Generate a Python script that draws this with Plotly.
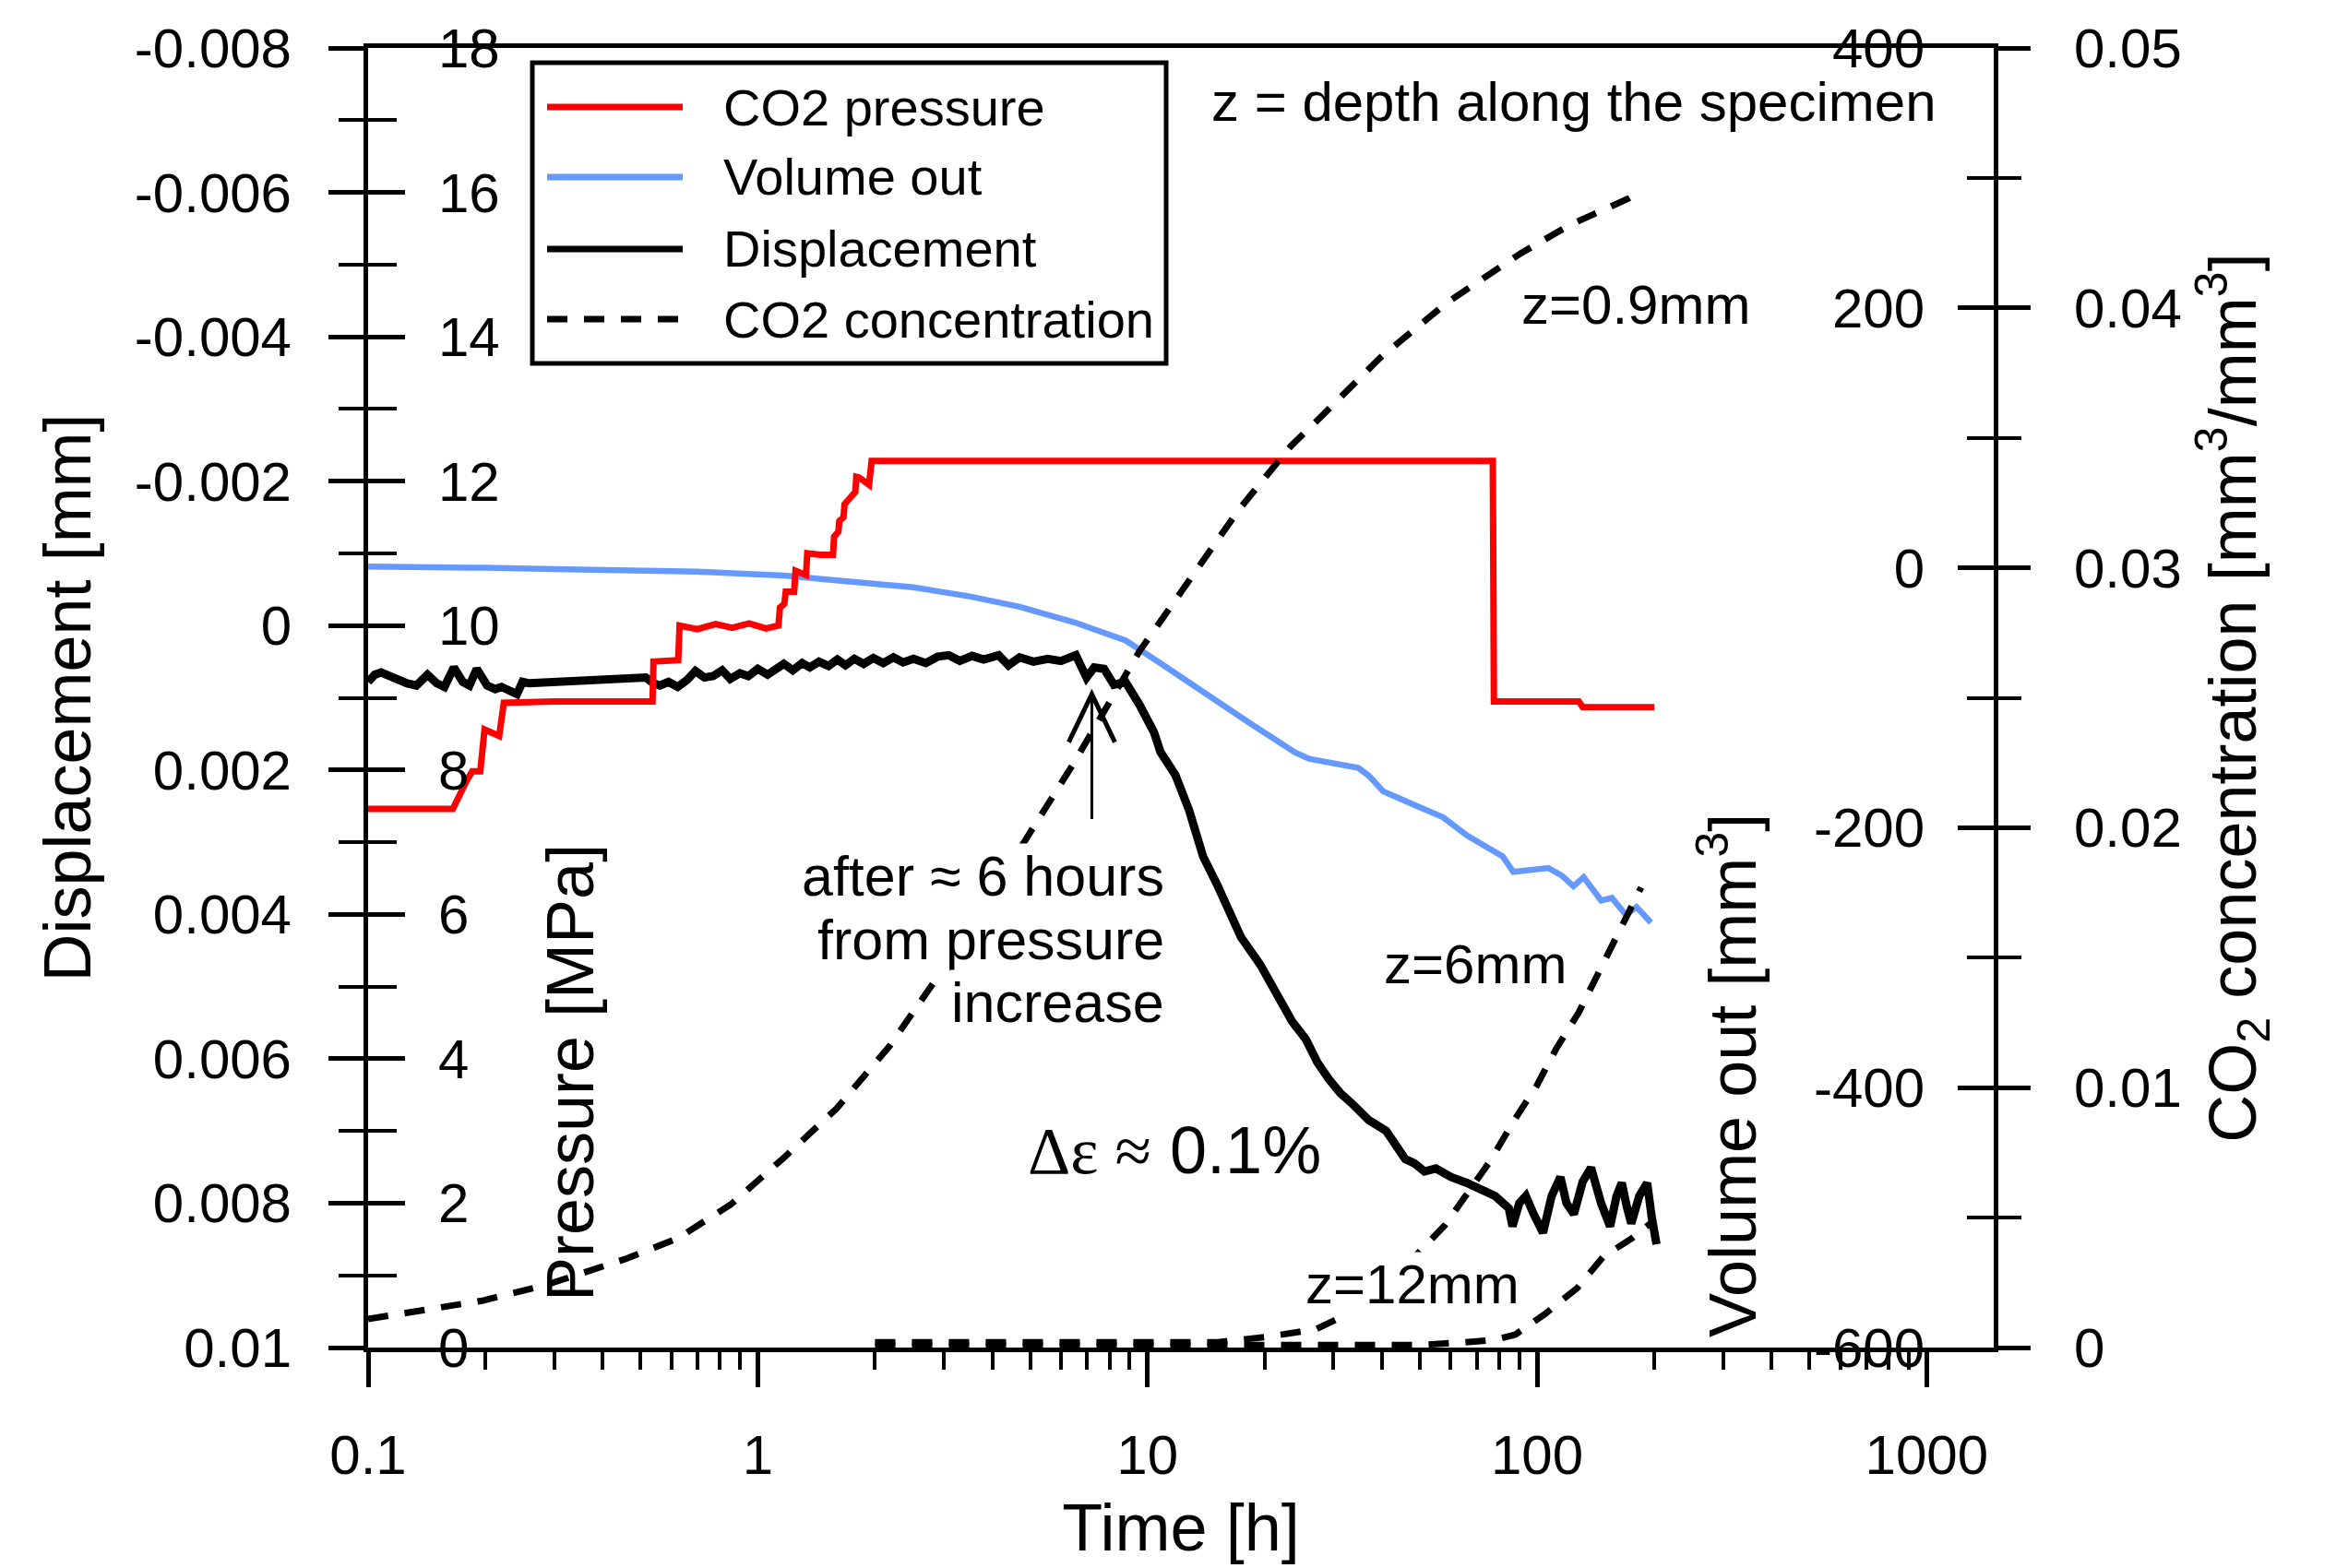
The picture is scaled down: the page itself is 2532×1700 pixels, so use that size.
import numpy as np
import plotly.graph_objects as go

# ---- data (time in hours) ----
# CO2 pressure [MPa]
p_time = [0.100, 0.165, 0.179, 0.185, 0.194, 0.199, 0.217, 0.223, 0.30, 0.40, 0.537,
          0.540, 0.625,
          0.630, 0.70, 0.78, 0.86, 0.95, 1.05, 1.13,
          1.14, 1.17, 1.18, 1.24, 1.25, 1.33, 1.34, 1.45, 1.56, 1.57,
          1.61, 1.62, 1.66, 1.67, 1.73, 1.78, 1.79, 1.82, 1.93, 1.96,
          10, 40, 77.0, 77.5, 100, 128, 131, 200]
p_val = [7.46, 7.46, 7.85, 7.98, 7.98, 8.56, 8.47, 8.93, 8.95, 8.95, 8.95,
         9.50, 9.52,
         10.0, 9.95, 10.02, 9.97, 10.03, 9.96, 10.0,
         10.25, 10.3, 10.47, 10.47, 10.76, 10.7, 11.0, 10.98, 10.98, 11.23,
         11.3, 11.45, 11.5, 11.68, 11.79, 11.85, 12.06, 12.05, 11.95, 12.28,
         12.28, 12.28, 12.28, 8.95, 8.95, 8.95, 8.87, 8.87]

# Volume out [mm3]
v_time = [0.1, 0.15, 0.2, 0.3, 0.5, 0.7, 1.0, 1.17, 1.5, 2.0,
          2.51, 3.5, 4.7, 6.5, 8.8, 11, 13.3, 15.5, 18.2, 21,
          23.9, 26, 30, 34.8, 37, 40.3, 48, 57.4, 66.1, 74,
          81.6, 86.9, 95, 107, 116, 124, 131.7, 146, 155.6, 169,
          180, 196]
v_val = [1, 1, 0, -1, -2, -3, -5, -6, -9, -12,
         -15, -22, -30, -42, -56, -75, -92, -106, -119, -131,
         -142, -147, -150, -154, -160, -172, -182, -192, -206, -215,
         -222, -234, -233, -231, -237, -245, -238, -256, -254, -267,
         -261, -273]

# Displacement [mm]
d_time = [0.100, 0.104, 0.108, 0.118, 0.126, 0.133, 0.142, 0.150, 0.157, 0.166,
          0.175, 0.182, 0.190, 0.202, 0.212, 0.220, 0.232, 0.241, 0.249, 0.259,
          0.516, 0.540, 0.561, 0.590, 0.623, 0.660, 0.692, 0.730, 0.768, 0.810,
          0.850, 0.900, 0.946, 1.00, 1.06, 1.12, 1.166, 1.23, 1.30, 1.36,
          1.436, 1.52, 1.60, 1.68, 1.77, 1.87, 1.98, 2.10, 2.23, 2.36,
          2.51, 2.70, 2.90, 3.09, 3.30, 3.55, 3.80, 4.15, 4.40, 4.70,
          5.10, 5.55, 6.00, 6.55, 6.98, 7.30, 7.74, 8.20, 8.78, 9.55,
          10.4, 10.8, 11.8, 12.8, 13.9, 15.1, 16.2, 17.4, 19.5, 21.8,
          23.5, 25.5, 27.3, 29.2, 31.3, 33.5, 37.0, 41.0, 43.5, 45.9,
          48.5, 51.4, 55.0, 60.2, 66.0, 72.2, 78.0, 84.6, 86.5, 90.0,
          93.6, 98.0, 103.6, 109, 114.8, 119, 124.3, 131, 137.6, 146,
          154, 160, 165, 170, 174.5, 183, 191.7, 197, 202.6]
d_val = [0.00078, 0.00068, 0.00065, 0.00075, 0.00080, 0.00083, 0.00068, 0.00080, 0.00085, 0.00058,
         0.00078, 0.00083, 0.00060, 0.00083, 0.00088, 0.00085, 0.00090, 0.00095, 0.00078, 0.00080,
         0.00072, 0.00080, 0.00083, 0.00078, 0.00085, 0.00075, 0.00063, 0.00072, 0.00070, 0.00062,
         0.00074, 0.00066, 0.00070, 0.00060, 0.00068, 0.00058, 0.00053, 0.00062, 0.00052, 0.00058,
         0.00050, 0.00056, 0.00047, 0.00055, 0.00046, 0.00053, 0.00045, 0.00052, 0.00044, 0.00051,
         0.00046, 0.00052, 0.00043, 0.00041, 0.00049, 0.00042, 0.00047, 0.00041, 0.00055, 0.00044,
         0.00050, 0.00046, 0.00049, 0.00041, 0.00072, 0.00058, 0.00060, 0.00082, 0.00078, 0.00110,
         0.00148, 0.00175, 0.00207, 0.00256, 0.00320, 0.00359, 0.00398, 0.00432, 0.00470, 0.00517,
         0.00548, 0.00573, 0.00605, 0.00628, 0.00648, 0.00662, 0.00685, 0.00700, 0.00722, 0.00739,
         0.00745, 0.00756, 0.00752, 0.00764, 0.00772, 0.00781, 0.00790, 0.00807, 0.00832, 0.00800,
         0.00790, 0.00815, 0.00841, 0.00790, 0.00764, 0.00800, 0.00815, 0.00770, 0.00751, 0.00800,
         0.00832, 0.00790, 0.00772, 0.00805, 0.00828, 0.00790, 0.00772, 0.00820, 0.00857]

# CO2 concentration [mm3/mm3] at three depths
c09_time = [0.1, 0.196, 0.285, 0.456, 0.623, 0.852, 1.166, 1.594, 2.18, 3.0,
            4.0, 5.1, 5.67, 6.42, 9.55, 12.8, 14.6, 17.1, 20.1, 23.4,
            28.3, 39.7, 58.7, 90.8, 121.8, 171.2, 185]
c09_val = [0.0011, 0.0018, 0.0024, 0.0034, 0.0042, 0.0055, 0.0073, 0.0092, 0.0116, 0.0146,
           0.0175, 0.0200, 0.0211, 0.0224, 0.0268, 0.0295, 0.0307, 0.0322, 0.0335, 0.0347,
           0.0359, 0.0381, 0.0402, 0.0421, 0.0432, 0.0442, 0.0445]
c6_time = [2.0, 5, 10, 15, 20, 27, 35, 42, 50, 58, 76, 87, 100, 112, 128, 143, 160, 178, 185]
c6_val = [0.0002, 0.0002, 0.0002, 0.0002, 0.0004, 0.0007, 0.0015, 0.0025, 0.0037, 0.0047,
          0.0072, 0.0087, 0.0101, 0.0115, 0.0129, 0.0143, 0.0158, 0.0172, 0.0177]
c12_time = [2.0, 20, 50, 65, 78, 88, 105, 127, 148, 175, 200]
c12_val = [0.0001, 0.0001, 0.0001, 0.0002, 0.0003, 0.0005, 0.0013, 0.0023, 0.0035, 0.0042, 0.0049]

# ---- ticks ----
time_ticks = [0.1, 1, 10, 100, 1000]
time_labels = ["0.1", "1", "10", "100", "1000"]
time_minor = [m * 10.0 ** e for e in range(-1, 3) for m in range(2, 10)]
disp_ticks = [-0.008, -0.006, -0.004, -0.002, 0, 0.002, 0.004, 0.006, 0.008, 0.01]
disp_labels = ["-0.008", "-0.006", "-0.004", "-0.002", "0", "0.002", "0.004", "0.006", "0.008", "0.01"]
disp_minor = [-0.007, -0.005, -0.003, -0.001, 0.001, 0.003, 0.005, 0.007, 0.009]
press_ticks = [0, 2, 4, 6, 8, 10, 12, 14, 16, 18]
press_minor = [1, 3, 5, 7, 9, 11, 13, 15, 17]
vol_ticks = [-600, -400, -200, 0, 200, 400]
vol_labels = ["-600", "-400", "-200", "0", "200", "400"]
vol_minor = [-500, -300, -100, 100, 300]
conc_ticks = [0, 0.01, 0.02, 0.03, 0.04, 0.05]
conc_labels = ["0", "0.01", "0.02", "0.03", "0.04", "0.05"]
conc_minor = [0.005, 0.015, 0.025, 0.035, 0.045]

names = ["CO2 pressure", "Volume out", "Displacement", "CO2 concentration"]
colors = ["#FF0000", "#6699FF", "#000000", "#000000"]

W, H = 2532, 1700
# plot frame as it sits in the reference picture; the page adds an 8px body margin
L, R, T, B = 399, 2161, 52, 1461
OFF = 8
FONT = "Liberation Sans, Arial, Helvetica, sans-serif"
DASH = "22px,18px"


def px(x):
    return (x - L) / (R - L)


def py(y):
    return (B - y) / (B - T)


fig = go.Figure()
fig.add_trace(go.Scatter(x=v_time, y=v_val, yaxis="y", mode="lines", name=names[1],
                         line=dict(color=colors[1], width=6.5)))
fig.add_trace(go.Scatter(x=d_time, y=d_val, yaxis="y2", mode="lines", name=names[2],
                         line=dict(color=colors[2], width=9)))
fig.add_trace(go.Scatter(x=p_time, y=p_val, yaxis="y3", mode="lines", name=names[0],
                         line=dict(color=colors[0], width=7)))
for t, c in [(c09_time, c09_val), (c6_time, c6_val), (c12_time, c12_val)]:
    fig.add_trace(go.Scatter(x=t, y=c, yaxis="y4", mode="lines", name=names[3],
                             line=dict(color=colors[3], width=7, dash=DASH)))

tickfont = dict(size=60, color="black", family=FONT)
common = dict(showgrid=False, zeroline=False, tickfont=tickfont, tickwidth=5,
              tickcolor="black", linecolor="black", linewidth=5,
              automargin=False, ticklabeloverflow="allow")

fig.update_layout(
    width=W, height=H, showlegend=False,
    margin=dict(l=L - OFF, r=W - R + OFF, t=T - OFF, b=H - B + OFF, autoexpand=False),
    paper_bgcolor="white", plot_bgcolor="white",
    font=dict(family=FONT, color="black"),
    xaxis=dict(type="log", range=[-1, np.log10(1486)], tickmode="array",
               tickvals=time_ticks, ticktext=time_labels, ticks="outside", ticklen=38,
               showline=True, mirror=True, ticklabelstandoff=22,
               minor=dict(tickvals=time_minor, ticks="outside", ticklen=19, tickwidth=4,
                          tickcolor="black"),
               title=dict(text="Time [h]", font=dict(size=72), standoff=22), **common),
    yaxis=dict(side="right", anchor="x", range=[-600, 400], tickmode="array",
               tickvals=vol_ticks, ticktext=vol_labels, ticks="inside", ticklen=39,
               ticklabelposition="inside", showline=True, ticklabelstandoff=45,
               minor=dict(tickvals=vol_minor, ticks="inside", ticklen=29, tickwidth=4,
                          tickcolor="black"), **common),
    yaxis2=dict(overlaying="y", side="left", anchor="x", range=[0.01, -0.008],
                tickmode="array", tickvals=disp_ticks, ticktext=disp_labels,
                ticks="outside", ticklen=38, showline=True, ticklabelstandoff=28,
                minor=dict(tickvals=disp_minor, ticks="outside", ticklen=27, tickwidth=4,
                           tickcolor="black"),
                title=dict(text="Displacement [mm]", font=dict(size=72), standoff=25), **common),
    yaxis3=dict(overlaying="y", side="left", anchor="x", range=[0, 18],
                tickmode="array", tickvals=press_ticks, ticks="inside", ticklen=40,
                ticklabelposition="inside", showline=False, ticklabelstandoff=45,
                minor=dict(tickvals=press_minor, ticks="inside", ticklen=31, tickwidth=4,
                           tickcolor="black"), **common),
    yaxis4=dict(overlaying="y", side="right", anchor="x", range=[0, 0.05],
                tickmode="array", tickvals=conc_ticks, ticktext=conc_labels,
                ticks="outside", ticklen=39, showline=False, ticklabelstandoff=35,
                minor=dict(tickvals=conc_minor, ticks="outside", ticklen=29, tickwidth=4,
                           tickcolor="black"),
                title=dict(text="CO<sub>2</sub> concentration [mm<sup>3</sup>/mm<sup>3</sup>]",
                           font=dict(size=72), standoff=30), **common),
)

ann = []
# rotated axis titles placed inside the frame
ann.append(dict(text="Pressure [MPa]", x=px(618), y=py(1163), textangle=-90,
                font=dict(size=72)))
ann.append(dict(text="Volume out [mm<sup>3</sup>]", x=px(1872), y=py(1166), textangle=-90,
                font=dict(size=72)))
# text notes
ann.append(dict(text="z = depth along the specimen", x=px(1311), y=py(110), xanchor="left",
                font=dict(size=60)))
ann.append(dict(text="z=0.9mm", x=px(1647), y=py(331), xanchor="left", font=dict(size=60)))
ann.append(dict(text="z=6mm", x=px(1498), y=py(1045), xanchor="left", font=dict(size=60),
                bgcolor="white"))
ann.append(dict(text="z=12mm", x=px(1413), y=py(1392), xanchor="left", font=dict(size=60),
                bgcolor="white"))
for line, yy in [("after \u2248 6 hours", 950), ("from pressure", 1019), ("increase", 1087)]:
    ann.append(dict(text=line, x=px(1264), y=py(yy), xanchor="right", font=dict(size=61),
                    bgcolor="white"))
ann.append(dict(text="<span style='font-family:Liberation Serif, Times New Roman, serif'>\u0394\u03b5 \u2248</span> 0.1%",
                x=px(1112), y=py(1247), xanchor="left", font=dict(size=72)))
for a in ann:
    a.setdefault("xref", "paper")
    a.setdefault("yref", "paper")
    a.setdefault("showarrow", False)
    a.setdefault("xanchor", "center")
    a.setdefault("yanchor", "middle")

# arrow pointing at the onset of displacement (shaft + open head)
arrow_t, arrow_tip, arrow_tail = 7.2, 0.00095, 0.0027
ann.append(dict(x=np.log10(arrow_t), y=arrow_tip, xref="x", yref="y2",
                ax=np.log10(arrow_t), ay=arrow_tail, axref="x", ayref="y2", text="",
                showarrow=True, arrowhead=0, arrowwidth=3, arrowcolor="black"))

# legend drawn as a framed box
shapes = [dict(type="rect", xref="paper", yref="paper", x0=px(577), x1=px(1264),
               y0=py(394), y1=py(68), line=dict(color="black", width=5),
               fillcolor="white", layer="above")]
shapes.append(dict(type="path", xref="x", yref="y2", xsizemode="pixel", ysizemode="pixel",
                   xanchor=arrow_t, yanchor=arrow_tip,
                   path="M-25,-52 L0,0 L25,-52", line=dict(color="black", width=5),
                   layer="above"))
leg_y = [116, 192, 270, 346]
for i, yy in enumerate(leg_y):
    shapes.append(dict(type="line", xref="paper", yref="paper", x0=px(593), x1=px(740),
                       y0=py(yy), y1=py(yy), layer="above",
                       line=dict(color=colors[i], width=7,
                                 dash=DASH if i == 3 else "solid")))
    ann.append(dict(text=names[i], x=px(782), y=py(yy), xref="paper", yref="paper",
                    xanchor="left", yanchor="middle", showarrow=False,
                    font=dict(size=56)))

fig.update_layout(annotations=ann, shapes=shapes)
fig.write_html("out.html")
